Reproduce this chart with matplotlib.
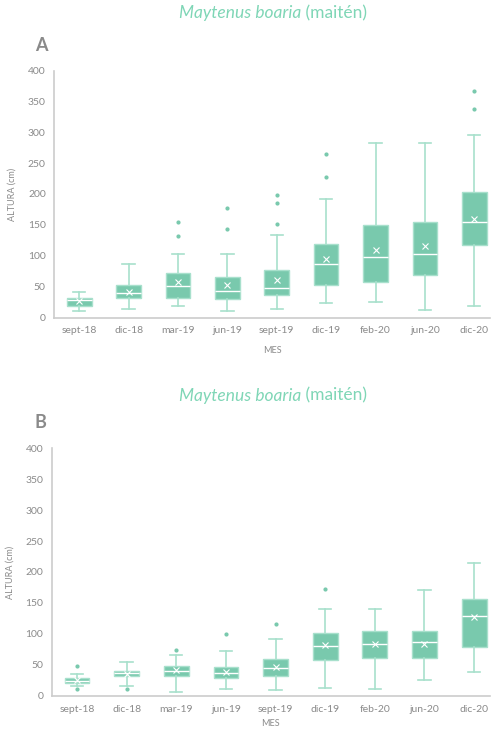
import numpy as np
import matplotlib.pyplot as plt

plt.rcParams['font.family'] = ['Lato', 'DejaVu Sans']

meses = ['sept-18', 'dic-18', 'mar-19', 'jun-19', 'sept-19', 'dic-19', 'feb-20', 'jun-20', 'dic-20']

# panel A
a_whislo = [10, 13, 19, 10, 13, 23, 24, 12, 19]
a_q1 = [19, 31, 32, 30, 36, 52, 57, 68, 118]
a_med = [28, 40, 50, 42, 48, 86, 98, 102, 155]
a_q3 = [32, 53, 71, 65, 76, 119, 149, 155, 204]
a_whishi = [41, 86, 103, 103, 134, 192, 282, 282, 296]
a_mean = [26, 41, 57, 53, 60, 94, 109, 115, 160]
a_fliers = [[], [], [132, 155], [143, 177], [151, 186, 198], [227, 265], [], [], [338, 367]]

# panel B
b_whislo = [16, 16, 6, 10, 9, 12, 11, 25, 38]
b_q1 = [21, 31, 31, 28, 32, 57, 60, 60, 79]
b_med = [24, 36, 39, 37, 44, 81, 83, 86, 129]
b_q3 = [29, 40, 48, 46, 59, 102, 105, 105, 156]
b_whishi = [35, 55, 66, 72, 92, 140, 140, 170, 215]
b_mean = [25, 35, 41, 38, 46, 82, 83, 84, 127]
b_fliers = [[10, 48], [10], [74], [99], [116], [172], [], [], []]

verde = '#79c9ad'
verde_claro = '#a8e0cc'
titulo_col = '#7fd6b6'
gris = '#8a8a8a'


def stats(lo, q1, med, q3, hi, mean, fl):
    out = []
    for i in range(len(med)):
        out.append({'whislo': lo[i], 'q1': q1[i], 'med': med[i], 'q3': q3[i],
                    'whishi': hi[i], 'mean': mean[i], 'fliers': fl[i]})
    return out


def panel(ax, st, pad):
    ax.bxp(st, positions=range(1, 10), widths=0.5, patch_artist=True,
           showmeans=True, showfliers=True,
           boxprops=dict(facecolor=verde, edgecolor=verde_claro, linewidth=1),
           medianprops=dict(color='white', linewidth=1),
           whiskerprops=dict(color=verde_claro, linewidth=1.2),
           capprops=dict(color=verde_claro, linewidth=1.2),
           meanprops=dict(marker='x', markeredgecolor='white', markersize=4, markeredgewidth=0.8),
           flierprops=dict(marker='o', markerfacecolor=verde, markeredgecolor=verde, markersize=2))
    ax.set_xlim(0.49, 9.32)
    ax.set_ylim(-1, 400)
    ax.set_yticks(range(0, 401, 50))
    ax.set_xticks(range(1, 10))
    ax.set_xticklabels(meses)
    ax.tick_params(colors=gris, labelsize=7.5, length=0, pad=6)
    for s in ['top', 'right']:
        ax.spines[s].set_visible(False)
    for s in ['left', 'bottom']:
        ax.spines[s].set_color('#cccccc')
        ax.spines[s].set_linewidth(1.2)
    ax.set_ylabel('ALTURA (cm)', color=gris, fontsize=6.5, labelpad=8)
    ax.set_xlabel('MES', color=gris, fontsize=6.5, labelpad=pad)


fig = plt.figure(figsize=(4.92, 7.29), dpi=100)

axA = fig.add_axes([0.11, 0.564, 0.886, 0.339])
panel(axA, stats(a_whislo, a_q1, a_med, a_q3, a_whishi, a_mean, a_fliers), 8)

axB = fig.add_axes([0.105, 0.045, 0.891, 0.34])
panel(axB, stats(b_whislo, b_q1, b_med, b_q3, b_whishi, b_mean, b_fliers), 4)

for y in [0.982, 0.457]:
    fig.text(0.612, y, 'Maytenus boaria', color=titulo_col, fontsize=12.5, ha='right', va='center',
             style='italic')
    fig.text(0.612, y, ' (maitén)', color=titulo_col, fontsize=12.5, ha='left', va='center')

fig.text(0.085, 0.937, 'A', color=gris, fontsize=13, fontweight='bold', ha='center', va='center')
fig.text(0.082, 0.42, 'B', color=gris, fontsize=13, fontweight='bold', ha='center', va='center')

plt.savefig('out.png', dpi=100)
